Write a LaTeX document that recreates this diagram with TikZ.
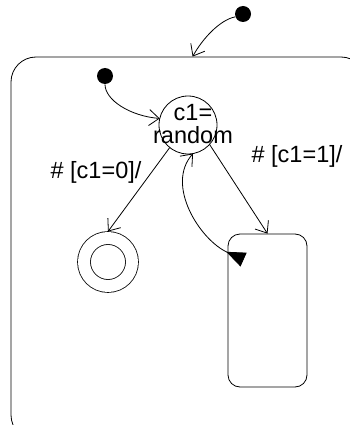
\documentclass[tikz,border=0pt]{standalone}
\usepackage{fontspec}
\setmainfont{Liberation Sans}
\usetikzlibrary{arrows.meta, calc}

\begin{document}
\begin{tikzpicture}[x=1pt, y=-1pt, line width=0.8pt,
    every node/.style={font={\fontsize{23.5}{23}\selectfont}},
    initst/.style={circle, fill=black, minimum size=16pt, inner sep=0pt},
    superst/.style={draw, rounded corners=25pt, minimum width=355pt, minimum height=383pt, inner sep=0pt},
    choicest/.style={draw, circle, minimum size=58pt, inner sep=0pt, outer sep=0pt},
    finalst/.style={draw, circle, double, double distance=12pt, minimum size=48pt, inner sep=0pt, outer sep=6.5pt},
    simplest/.style={draw, rounded corners=12pt, minimum width=79pt, minimum height=153pt, inner sep=0pt},
    trans/.style={-{Straight Barb[length=10pt, width=16pt]}},
    guard/.style={inner sep=0pt}]
  \useasboundingbox (0,0) rectangle (350,425);
  \clip (0,0) rectangle (350,425);

  % states
  \node[superst] (super) at (188.5,248.5) {};
  \node[initst] (topdot) at (243,14) {};
  \node[initst] (initdot) at (105,76) {};
  \node[choicest] (decide) at (188,125) {};
  \node[inner sep=0pt, align=center] (decidetext) at (193,124) {c1=\\random};
  \node[finalst] (final) at (108,262) {};
  \node[simplest] (jobbox) at (267.5,310.5) {};

  % transitions
  \draw[trans] (topdot.200) .. controls (220,20) and (203,38) .. ($(super.north west)+(182,0)$);
  \draw[trans] (initdot.south) .. controls (105,100) and (130,116) .. (decide.167);
  \draw[trans] (decide.231) -- (final.north);
  \draw[trans] (decide.318) -- (jobbox.north);
  \draw[{Triangle[reversed, length=19pt, width=15pt]}-{Straight Barb[length=10pt, width=16pt]}]
    ($(jobbox.north west)+(16,26)$) .. controls (200,240) and (165,185) .. (decide.280);

  % guards
  \node[guard] (guardzero) at (96,172) {\# [c1=0]/};
  \node[guard] (guardone) at (297,156) {\# [c1=1]/};
\end{tikzpicture}
\end{document}
